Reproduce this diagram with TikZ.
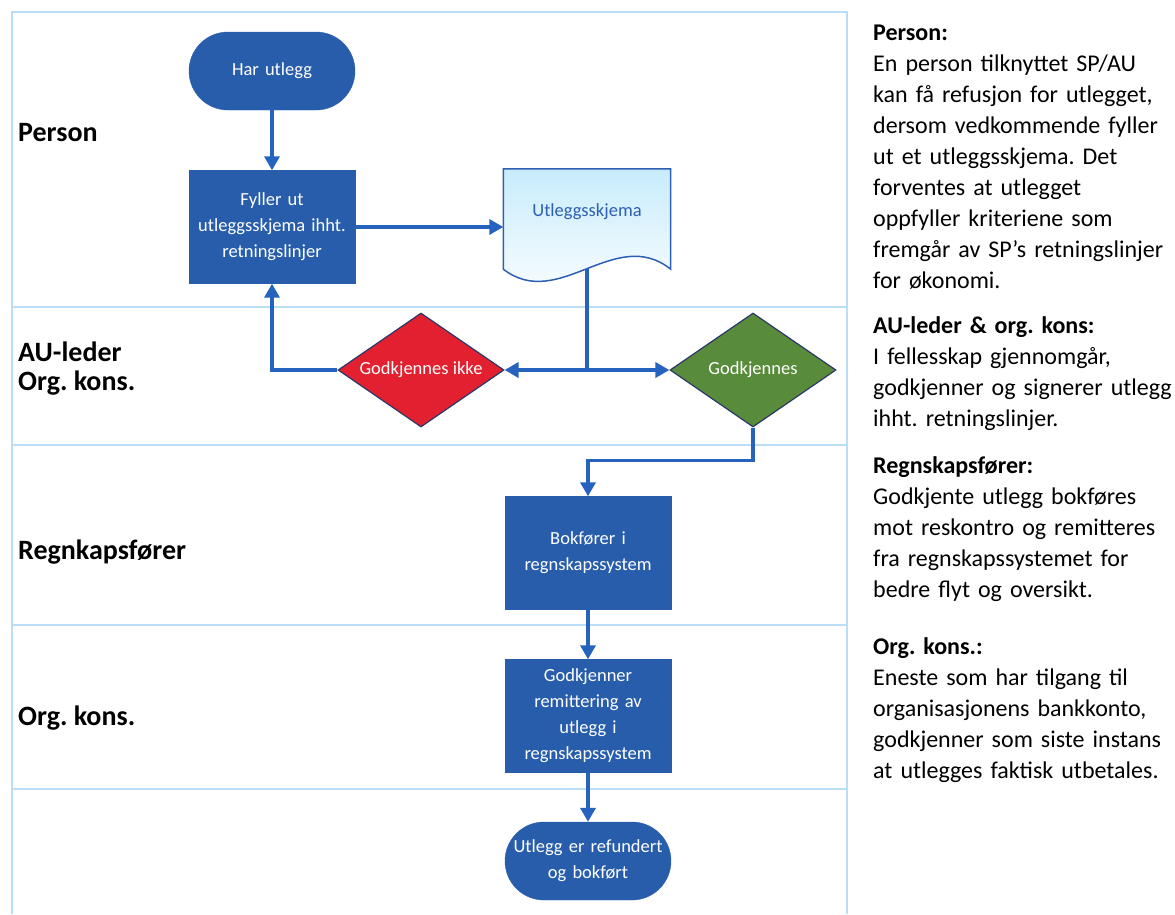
\documentclass[tikz,border=0pt]{standalone}
\usepackage{fontspec}
\setmainfont{Carlito}
\frenchspacing
\usetikzlibrary{arrows.meta,shapes.geometric}
\definecolor{boxblue}{RGB}{40,93,172}
\definecolor{lineblue}{RGB}{38,99,190}
\definecolor{lanecol}{RGB}{185,222,246}
\definecolor{redfill}{RGB}{226,32,48}
\definecolor{greenfill}{RGB}{88,140,58}
\definecolor{dmdborder}{RGB}{42,56,104}
\definecolor{docblue}{RGB}{45,95,180}
\definecolor{doctop}{RGB}{200,236,252}
\begin{document}
\begin{tikzpicture}[x=1pt,y=-1pt,
  lane/.style={draw=lanecol,line width=1.2pt},
  proc/.style={rectangle,fill=boxblue,draw=boxblue,minimum width=166pt,minimum height=113pt,
    text width=160pt,align=center,text=white,inner sep=0pt,font=\fontsize{18.5}{26}\selectfont},
  term/.style={proc,rounded corners=39pt,minimum height=78pt},
  dmd/.style={diamond,shape aspect=1.46,draw=dmdborder,line width=1.2pt,minimum width=166pt,
    minimum height=114pt,inner sep=0pt,text=white,font=\fontsize{18.5}{26}\selectfont},
  conn/.style={draw=lineblue,line width=3.5pt},
  arr/.style={conn,-{Triangle[length=14pt,width=15pt]}},
  lanelabel/.style={anchor=west,inner sep=0pt,align=left,font=\fontsize{28}{29}\selectfont\bfseries},
  desc/.style={anchor=base west,inner sep=0pt,text width=330pt,align=left,font=\fontsize{24}{31}\selectfont}
]
\useasboundingbox (0,0) rectangle (1175,914);
% swimlane frame
\draw[lane] (12,914) -- (12,12) -- (847,12) -- (847,914);
\foreach \yy in {307,445,625,789} \draw[lane] (12,\yy) -- (847,\yy);

% lane labels
\node[lanelabel] (lp) at (18,133) {Person};
\node[lanelabel] (la) at (18,369) {AU-leder\\Org. kons.};
\node[lanelabel] (lr) at (18,552) {Regnkapsfører};
\node[lanelabel] (lo) at (18,718) {Org. kons.};

% nodes
\node[term] (har) at (272,71) {Har utlegg};
\node[proc] (fyll) at (272,227) {Fyller ut\\utleggsskjema ihht.\\retningslinjer};
\node[rectangle,minimum width=167pt,minimum height=100pt,inner sep=0pt] (doc) at (587,219) {};
\path[draw=docblue,line width=1.5pt,top color=doctop,bottom color=white]
  (doc.north west) -- (doc.north east) -- (doc.south east)
  .. controls (615,225) and (559,312) .. (doc.south west) -- cycle;
\node[text=docblue,font=\fontsize{18.5}{26}\selectfont] (doctext) at (587,212) {Utleggsskjema};
\node[dmd,fill=redfill] (red) at (421,370) {Godkjennes ikke};
\node[dmd,fill=greenfill] (green) at (753,370) {Godkjennes};
\node[proc] (bok) at (588,553) {Bokfører i\\regnskapssystem};
\node[proc] (godk) at (588,716) {Godkjenner\\remittering av\\utlegg i\\regnskapssystem};
\node[term] (end) at (588,861) {Utlegg er refundert\\og bokført};

% connectors
\coordinate (j) at (587,370);
\draw[arr] (har.south) -- (fyll.north);
\draw[arr] (fyll.east) -- (fyll.east -| doc.west);
\draw[conn] (doc.south) -- (j);
\draw[arr] (j) -- (red.east);
\draw[arr] (j) -- (green.west);
\draw[arr] (red.west) -| (fyll.south);
\draw[arr] (green.south) -- ++(0,33) -| (bok.north);
\draw[arr] (bok.south) -- (godk.north);
\draw[arr] (godk.south) -- (end.north);

% description texts
\node[desc] (d1) at (873,40) {\textbf{Person:}\\En person tilknyttet SP/AU\\kan få refusjon for utlegget,\\dersom vedkommende fyller\\ut et utleggsskjema. Det\\forventes at utlegget\\oppfyller kriteriene som\\fremgår av SP’s retningslinjer\\for økonomi.};
\node[desc] (d2) at (873,333) {\textbf{AU-leder \& org. kons:}\\I fellesskap gjennomgår,\\godkjenner og signerer utlegg\\ihht. retningslinjer.};
\node[desc] (d3) at (873,473) {\textbf{Regnskapsfører:}\\Godkjente utlegg bokføres\\mot reskontro og remitteres\\fra regnskapssystemet for\\bedre flyt og oversikt.};
\node[desc] (d4) at (873,654) {\textbf{Org. kons.:}\\Eneste som har tilgang til\\organisasjonens bankkonto,\\godkjenner som siste instans\\at utlegges faktisk utbetales.};
\end{tikzpicture}
\end{document}
